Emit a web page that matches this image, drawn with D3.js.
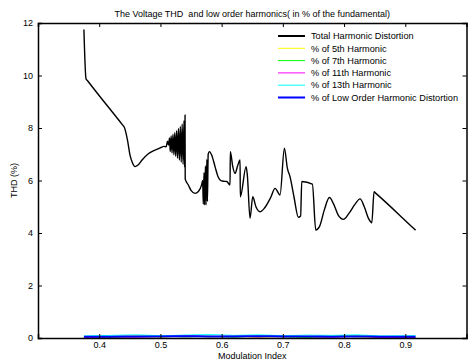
<!DOCTYPE html>
<html>
<head>
<meta charset="utf-8">
<script src="https://cdn.jsdelivr.net/npm/d3@7"></script>
<style>
body{margin:0;background:#fff;}
text{font-family:"Liberation Sans",Arial,sans-serif;fill:#000;white-space:pre;}
</style>
</head>
<body>
<svg id="drawing_region"></svg>
<script>
// modulation index / THD (%)
const mi = [0.375,0.3784,0.3810,0.4380,0.441,0.4462,0.4503,0.4544,0.4585,0.4634,0.470,0.4797,0.4912,0.4993,0.5059,0.5092,0.5116,0.5132,0.5149,
    0.5160,0.5175,0.5190,0.5205,0.5220,0.5235,0.5250,0.5265,0.5280,0.5295,0.5310,0.5325,0.5340,0.5355,0.5370,0.5385,0.5395,0.5402,
    0.5405,0.5456,0.5500,0.5565,0.5620,0.5675,
    0.5690,0.5700,0.5712,0.5722,0.5735,0.5745,0.5758,0.5768,0.5780,0.5800,0.5840,0.5892,0.5940,0.5974,0.6030,0.6083,0.6137,
    0.6142,0.6180,0.6219,0.6260,0.6301,0.6305,0.6400,0.6420,0.6464,0.6508,0.6560,0.6627,0.6700,0.6800,0.6873,0.6954,
    0.7025,0.7074,0.7118,0.7180,0.7253,0.7290,0.7309,0.7482,0.7538,0.7600,0.7680,0.7760,0.7830,0.7900,0.7989,
    0.8080,0.8180,0.8261,0.8330,0.8400,0.8453,0.8490,0.8515,0.9140,0.9168]
const thd = [11.75,9.88,9.80,8.12,8.03,7.54,6.97,6.67,6.53,6.59,6.78,7.01,7.16,7.24,7.30,7.28,7.50,7.35,7.62,
    7.10,7.70,7.05,7.76,6.98,7.83,6.92,7.90,6.85,7.98,6.78,8.06,6.70,8.15,6.62,8.28,6.50,8.50,
    6.05,5.83,5.62,5.51,5.58,5.85,
    6.00,5.10,6.30,5.07,6.55,5.07,6.80,5.20,7.00,7.10,6.95,6.53,6.15,6.02,5.97,5.96,5.83,
    7.10,6.55,6.27,6.55,6.78,5.38,6.53,6.20,4.56,5.38,5.00,4.81,4.95,5.35,5.70,5.45,
    7.23,6.46,6.14,5.40,4.60,4.65,5.96,5.86,4.11,4.25,4.90,5.35,5.10,4.70,4.52,
    4.75,5.10,5.30,5.00,4.55,4.39,5.57,5.52,4.17,4.11]

// low order harmonics, all close to zero
const harm_mi = [0.375,0.42,0.46,0.50,0.54,0.58,0.62,0.66,0.70,0.74,0.78,0.82,0.86,0.9168]
const h5  = [0.02,0.05,0.08,0.03,0.09,0.04,0.07,0.02,0.06,0.03,0.08,0.05,0.02,0.03]
const h7  = [0.03,0.02,0.06,0.09,0.04,0.07,0.03,0.08,0.05,0.02,0.06,0.09,0.03,0.02]
const h11 = [0.01,0.04,0.03,0.07,0.10,0.05,0.08,0.04,0.09,0.06,0.03,0.07,0.02,0.01]
const h13 = [0.08,0.10,0.12,0.09,0.11,0.13,0.10,0.12,0.09,0.11,0.10,0.12,0.08,0.09]
const loh = [0.05,0.05,0.06,0.06,0.07,0.06,0.06,0.07,0.06,0.06,0.05,0.06,0.05,0.05]

const x_ticks = [0.4,0.5,0.6,0.7,0.8,0.9]
const y_ticks = [0,2,4,6,8,10,12]
const legend_names = ["Total Harmonic Distortion","% of 5th Harmonic","% of 7th Harmonic",
    "% of 11th Harmonic","% of 13th Harmonic","% of Low Order Harmonic Distortion"]

const series = [
    {x:mi, y:thd, color:"#000000", width:1.4},
    {x:harm_mi, y:h5, color:"#ffff00", width:1},
    {x:harm_mi, y:h7, color:"#00ff00", width:1},
    {x:harm_mi, y:h11, color:"#ff00ff", width:1},
    {x:harm_mi, y:h13, color:"#00ffff", width:1},
    {x:harm_mi, y:loh, color:"#0000ff", width:2}
]

class Line_chart{
    constructor(config){
        this.config = config
        this.init()
    }
    init(){
        let self = this
        const c = self.config
        self.svg = d3.select(c.parent)
            .attr("width",c.width)
            .attr("height",c.height)
        self.inner_width = c.width-c.margin.left-c.margin.right
        self.inner_height = c.height-c.margin.top-c.margin.bottom

        self.xscale = d3.scaleLinear().domain([0.3,1.0]).range([0,self.inner_width])
        self.yscale = d3.scaleLinear().domain([0,12]).range([self.inner_height,0])

        self.chart = self.svg.append("g")
            .attr("transform",`translate(${c.margin.left},${c.margin.top})`)
    }
    render(){
        let self = this
        const w = self.inner_width, h = self.inner_height

        const line = d3.line()
            .curve(d3.curveMonotoneX)
            .x(d=>self.xscale(d[0]))
            .y(d=>self.yscale(d[1]))

        self.chart.selectAll("path.series")
            .data(series)
            .join("path")
            .attr("class","series")
            .attr("d",s=>line(s.x.map((v,i)=>[v,s.y[i]])))
            .attr("fill","none")
            .attr("stroke",s=>s.color)
            .attr("stroke-width",s=>s.width)
            .attr("stroke-linejoin","round")

        // axes, ticks inside on all four sides
        const fmt = d3.format("")
        const xb = self.chart.append("g").attr("transform",`translate(0,${h})`)
            .call(d3.axisBottom(self.xscale).tickValues(x_ticks).tickSize(-4).tickPadding(4).tickFormat(fmt))
        const xt = self.chart.append("g")
            .call(d3.axisTop(self.xscale).tickValues(x_ticks).tickSize(-4).tickFormat(""))
        const yl = self.chart.append("g")
            .call(d3.axisLeft(self.yscale).tickValues(y_ticks).tickSize(-4).tickPadding(5))
        const yr = self.chart.append("g").attr("transform",`translate(${w},0)`)
            .call(d3.axisRight(self.yscale).tickValues(y_ticks).tickSize(-4).tickFormat(""))
        ;[xb,xt,yl,yr].forEach(g=>{
            g.select(".domain").attr("stroke","#000").attr("stroke-width",1.5)
            g.selectAll(".tick line").attr("stroke","#000")
            g.selectAll("text").attr("font-size","9px").attr("font-family","Liberation Sans, Arial, sans-serif")
        })

        self.svg.append("text")
            .attr("x",self.config.margin.left+w/2)
            .attr("y",17)
            .attr("text-anchor","middle")
            .attr("font-size","9px")
            .text("The Voltage THD  and low order harmonics( in % of the fundamental)")

        self.svg.append("text")
            .attr("x",self.config.margin.left+w/2)
            .attr("y",359)
            .attr("text-anchor","middle")
            .attr("font-size","9px")
            .text("Modulation Index")

        self.svg.append("text")
            .attr("transform",`translate(17,${self.config.margin.top+h/2}) rotate(-90)`)
            .attr("text-anchor","middle")
            .attr("font-size","9px")
            .text("THD (%)")

        const legend = self.svg.append("g").attr("transform","translate(278,36)")
        const rows = legend.selectAll("g")
            .data(series)
            .join("g")
            .attr("transform",(d,i)=>`translate(0,${i*12.3})`)
        rows.append("line")
            .attr("x1",0).attr("x2",27)
            .attr("stroke",d=>d.color)
            .attr("stroke-width",(d,i)=>(i==0||i==5)?2:1)
        rows.append("text")
            .attr("x",33).attr("y",3.2)
            .attr("font-size","9.2px")
            .text((d,i)=>legend_names[i])
    }
}

const config = {
    parent:"#drawing_region",
    width:468,
    height:362,
    margin:{top:23,right:1.5,bottom:24,left:38}
}
const chart = new Line_chart(config)
chart.render()
</script>
</body>
</html>
